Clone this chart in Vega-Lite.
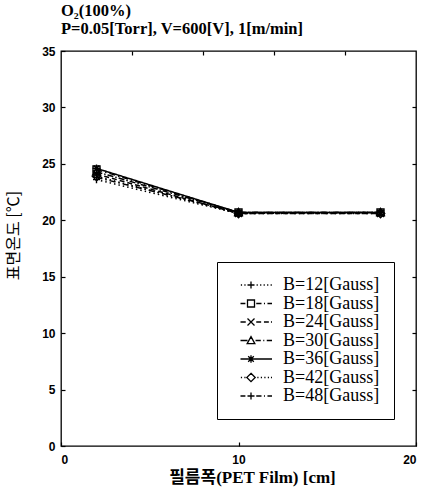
{
  "$schema": "https://vega.github.io/schema/vega-lite/v6.json",
  "width": 355,
  "height": 395,
  "autosize": {"type": "none"},
  "padding": {"left": 61, "top": 51, "right": 10, "bottom": 45},
  "background": "white",
  "title": {
    "text": ["O₂(100%)", "P=0.05[Torr], V=600[V], 1[m/min]"],
    "anchor": "start",
    "frame": "group",
    "font": "Liberation Serif",
    "fontSize": 16.5,
    "fontWeight": "bold",
    "color": "black",
    "lineHeight": 18,
    "offset": 8
  },
  "config": {
    "view": {"stroke": "black", "strokeWidth": 1.3},
    "axis": {
      "grid": false,
      "domain": false,
      "tickColor": "black",
      "tickSize": -4,
      "tickWidth": 1.2,
      "labelFont": "Liberation Sans",
      "labelFontSize": 12,
      "labelFontWeight": "bold",
      "labelColor": "black"
    }
  },
  "data": {
    "values": [
      {"B": "B=12[Gauss]", "x": 2, "y": 23.6},
      {"B": "B=12[Gauss]", "x": 10, "y": 20.6},
      {"B": "B=12[Gauss]", "x": 18, "y": 20.7},
      {"B": "B=18[Gauss]", "x": 2, "y": 24.5},
      {"B": "B=18[Gauss]", "x": 10, "y": 20.7},
      {"B": "B=18[Gauss]", "x": 18, "y": 20.7},
      {"B": "B=24[Gauss]", "x": 2, "y": 24.1},
      {"B": "B=24[Gauss]", "x": 10, "y": 20.6},
      {"B": "B=24[Gauss]", "x": 18, "y": 20.6},
      {"B": "B=30[Gauss]", "x": 2, "y": 24.3},
      {"B": "B=30[Gauss]", "x": 10, "y": 20.7},
      {"B": "B=30[Gauss]", "x": 18, "y": 20.7},
      {"B": "B=36[Gauss]", "x": 2, "y": 24.6},
      {"B": "B=36[Gauss]", "x": 10, "y": 20.7},
      {"B": "B=36[Gauss]", "x": 18, "y": 20.7},
      {"B": "B=42[Gauss]", "x": 2, "y": 23.9},
      {"B": "B=42[Gauss]", "x": 10, "y": 20.6},
      {"B": "B=42[Gauss]", "x": 18, "y": 20.6},
      {"B": "B=48[Gauss]", "x": 2, "y": 23.8},
      {"B": "B=48[Gauss]", "x": 10, "y": 20.7},
      {"B": "B=48[Gauss]", "x": 18, "y": 20.7}
    ]
  },
  "layer": [
    {
      "mark": {"type": "line", "color": "black", "strokeWidth": 1.5},
      "encoding": {
        "x": {
          "field": "x", "type": "quantitative",
          "scale": {"domain": [0, 20], "nice": false},
          "axis": {
            "orient": "bottom", "values": [0, 10, 20], "labelPadding": 12,
            "title": "필름폭(PET Film) [cm]",
            "titleFont": "'Liberation Serif', 'Noto Sans CJK KR'",
            "titleFontSize": 17, "titleFontWeight": "bold", "titleColor": "black",
            "titleX": 191, "titleY": 23, "titleBaseline": "top", "titleAlign": "center"
          }
        },
        "y": {
          "field": "y", "type": "quantitative",
          "scale": {"domain": [0, 35], "nice": false},
          "axis": {
            "orient": "left", "values": [0, 5, 10, 15, 20, 25, 30, 35], "labelPadding": 10,
            "title": "표면온도 [℃]",
            "titleFont": "Noto Sans CJK KR", "titleFontSize": 16, "titleFontWeight": "normal",
            "titleColor": "black", "titleX": -40, "titleY": 184, "titleAngle": -90,
            "titleBaseline": "bottom", "titleAlign": "center"
          }
        },
        "detail": {"field": "B"},
        "strokeDash": {
          "field": "B", "type": "nominal", "legend": null,
          "scale": {
            "domain": ["B=12[Gauss]", "B=18[Gauss]", "B=24[Gauss]", "B=30[Gauss]", "B=36[Gauss]", "B=42[Gauss]", "B=48[Gauss]"],
            "range": [[1.5, 3], [6, 3, 1.5, 3], [5, 3], [6, 2, 1.5, 2], [1, 0], [1.5, 3], [6, 3, 1.5, 3]]
          }
        }
      }
    },
    {
      "mark": {"type": "point", "color": "black", "filled": false, "size": 49, "strokeWidth": 1.4, "opacity": 1},
      "encoding": {
        "x": {
          "field": "x", "type": "quantitative",
          "axis": {"orient": "top", "values": [4, 8, 12, 16], "labels": false, "title": null}
        },
        "y": {
          "field": "y", "type": "quantitative",
          "axis": {"orient": "right", "values": [5, 10, 15, 20, 25, 30], "labels": false, "title": null}
        },
        "shape": {
          "field": "B", "type": "nominal", "legend": null,
          "scale": {
            "domain": ["B=12[Gauss]", "B=18[Gauss]", "B=24[Gauss]", "B=30[Gauss]", "B=36[Gauss]", "B=42[Gauss]", "B=48[Gauss]"],
            "range": [
              "M-1,0L1,0M0,-1L0,1",
              "M-1,-1L1,-1L1,1L-1,1Z",
              "M-1,-1L1,1M1,-1L-1,1",
              "M0,-1.1L1.1,0.9L-1.1,0.9Z",
              "M-1.1,0L1.1,0M0,-1.1L0,1.1M-0.8,-0.8L0.8,0.8M0.8,-0.8L-0.8,0.8",
              "M0,-1.2L1.2,0L0,1.2L-1.2,0Z",
              "M-1,0L1,0M0,-1L0,1"
            ]
          }
        }
      }
    },
    {
      "mark": {"type": "point", "color": "black", "filled": false, "size": 49, "strokeWidth": 1.3, "opacity": 0},
      "encoding": {
        "x": {"field": "x", "type": "quantitative", "axis": null},
        "y": {"field": "y", "type": "quantitative", "axis": null},
        "shape": {
          "field": "B", "type": "nominal",
          "scale": {
            "domain": ["B=12[Gauss]", "B=18[Gauss]", "B=24[Gauss]", "B=30[Gauss]", "B=36[Gauss]", "B=42[Gauss]", "B=48[Gauss]"],
            "range": [
              "M-2.9,0L-2.55,0M-1.9,0L-1.55,0M-1,0L1,0M0,-1L0,1M1.6,0L1.95,0M2.6,0L2.95,0M3.6,0L3.95,0M4.6,0L4.95,0M5.6,0L5.95,0",
              "M-3,0L-1.6,0M-1,-1L1,-1L1,1L-1,1ZM1.5,0L3,0M3.7,0L4,0M4.7,0L6,0",
              "M-3,0L-1.5,0M-1,-1L1,1M1,-1L-1,1M1.5,0L2.9,0M3.7,0L5.1,0M5.7,0L6,0",
              "M-3,0L-1,0M0,-1.1L1.1,0.9L-1.1,0.9ZM1.3,0L2.8,0M3.5,0L3.8,0M4.5,0L6,0",
              "M-3,0L6,0M0,-1.1L0,1.1M-0.8,-0.8L0.8,0.8M0.8,-0.8L-0.8,0.8",
              "M-2.9,0L-2.55,0M-1.9,0L-1.55,0M0,-1.2L1.2,0L0,1.2L-1.2,0ZM1.8,0L2.15,0M2.8,0L3.15,0M3.8,0L4.15,0M4.8,0L5.15,0M5.7,0L6,0",
              "M-3,0L-1.6,0M-1,0L1,0M0,-1L0,1M1.5,0L3,0M3.7,0L4,0M4.7,0L6,0"
            ]
          },
          "legend": {
            "orient": "none", "legendX": 156, "legendY": 211, "title": null,
            "padding": 14, "strokeColor": "black", "fillColor": "white",
            "labelFont": "Liberation Serif", "labelFontSize": 18, "labelColor": "black",
            "symbolSize": 49, "symbolStrokeColor": "black", "symbolStrokeWidth": 1.3,
            "symbolOpacity": 1, "symbolFillColor": "transparent",
            "symbolOffset": 11, "labelOffset": 23, "rowPadding": 0.5
          }
        }
      }
    }
  ],
  "resolve": {
    "axis": {"x": "independent", "y": "independent"},
    "scale": {"shape": "independent"}
  }
}
